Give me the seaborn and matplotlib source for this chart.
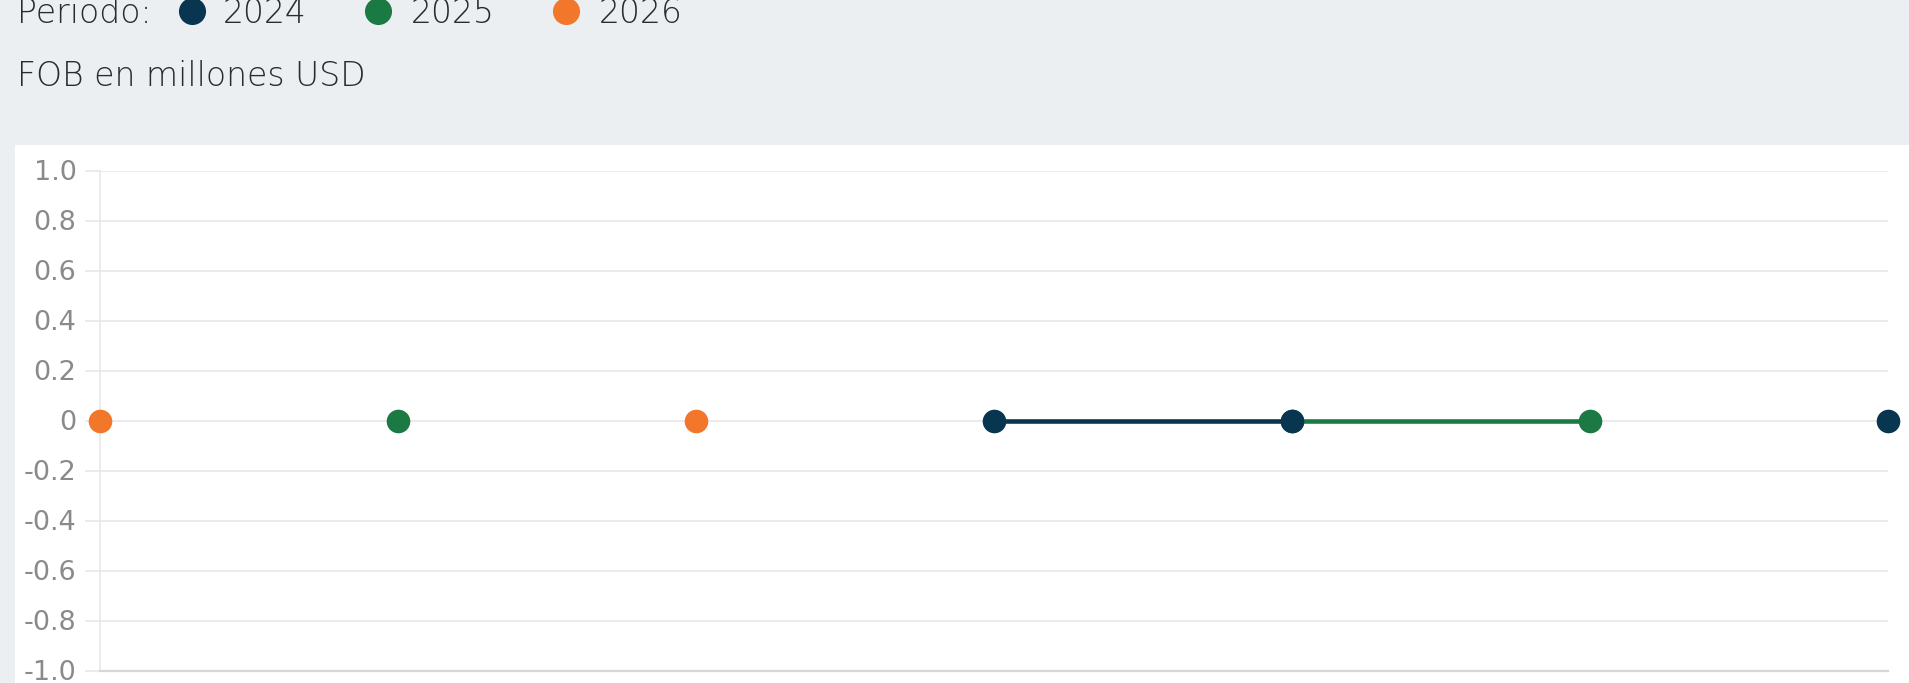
import numpy as np
import pandas as pd
import matplotlib
matplotlib.use("Agg")
import matplotlib.pyplot as plt
from matplotlib.lines import Line2D
from matplotlib.patches import Rectangle
import seaborn as sns

# Periods on the horizontal axis (index positions) and FOB values per year
posiciones = [0, 1, 2, 3, 4, 5, 6]
fob_2024 = [np.nan, np.nan, np.nan, 0.0, 0.0, np.nan, 0.0]
fob_2025 = [np.nan, 0.0, np.nan, np.nan, 0.0, 0.0, np.nan]
fob_2026 = [0.0, np.nan, 0.0, np.nan, np.nan, np.nan, np.nan]
periodos = ["2024", "2025", "2026"]
colores = {"2024": "#08354f", "2025": "#1b7a43", "2026": "#f3772a"}

valores_y = [-1.0, -0.8, -0.6, -0.4, -0.2, 0.0, 0.2, 0.4, 0.6, 0.8, 1.0]
etiquetas_y = ["-1.0", "-0.8", "-0.6", "-0.4", "-0.2", "0", "0.2", "0.4", "0.6", "0.8", "1.0"]

titulo_eje = "FOB en millones USD"
titulo_leyenda = "Periodo:"

# Long table; contiguous runs of values get their own segment id so gaps stay open
filas = []
for periodo, serie in zip(periodos, [fob_2024, fob_2025, fob_2026]):
    tramo = 0
    previo_nan = True
    for x, v in zip(posiciones, serie):
        if np.isnan(v):
            previo_nan = True
            continue
        if previo_nan:
            tramo += 1
            previo_nan = False
        filas.append({"x": x, "fob": v, "Periodo": periodo, "tramo": f"{periodo}-{tramo}"})
df = pd.DataFrame(filas)

sns.set_theme(style="white")
plt.rcParams["font.family"] = ["DejaVu Sans"]

W, H = 1909, 683
fig = plt.figure(figsize=(W / 100, H / 100), dpi=100)
fig.patch.set_facecolor("#ebeff2")

# White chart panel
fig.add_artist(Rectangle((15 / W, 0), 1 - 15 / W, (H - 145) / H,
                         transform=fig.transFigure, facecolor="white",
                         edgecolor="none", zorder=-1))

ax = fig.add_axes([99.5 / W, 12.5 / H, (1888 - 99.5) / W, 500 / H])
ax.set_facecolor("none")

sns.lineplot(data=df, x="x", y="fob", hue="Periodo", units="tramo",
             estimator=None, hue_order=["2026", "2025", "2024"],
             palette=colores, marker="o", markersize=17,
             markeredgewidth=0, linewidth=3.3, clip_on=False,
             legend=False, ax=ax, zorder=3)

ax.set_xlim(0, 6)
ax.set_ylim(-1, 1)
ax.set_yticks(valores_y)
ax.set_yticklabels(etiquetas_y)
ax.set_xticks([])
ax.set_xlabel("")
ax.set_ylabel("")
ax.yaxis.grid(True, color="#e6e6e6", linewidth=1.1)
ax.xaxis.grid(False)
ax.tick_params(axis="y", length=10.5, width=1.1, color="#e6e6e6",
               pad=6, labelsize=19.5, labelcolor="#8a8a8a", left=True)
for s in ["top", "right"]:
    ax.spines[s].set_visible(False)
ax.spines["left"].set_color("#e6e6e6")
ax.spines["left"].set_linewidth(1.1)
ax.spines["bottom"].set_color("#d6d6d6")
ax.spines["bottom"].set_linewidth(1.6)

# Axis title above the panel
fig.text(17 / W, 1 - 85.5 / H, titulo_eje, ha="left", va="baseline",
         fontsize=23.8, color="#2b2b2b", fontweight="light")

# Legend row at the top
fig.text(17 / W, 1 - 22.7 / H, titulo_leyenda, ha="left", va="baseline",
         fontsize=23.8, color="#2b2b2b", fontweight="light")
for periodo, xd, xt in zip(periodos, [191.5, 378, 566], [223, 411, 599]):
    fig.add_artist(Line2D([xd / W], [1 - 10.5 / H], transform=fig.transFigure,
                          marker="o", markersize=19.5, markeredgewidth=0,
                          color=colores[periodo], linestyle="none"))
    fig.text(xt / W, 1 - 22.7 / H, periodo, ha="left", va="baseline",
             fontsize=23.8, color="#2b2b2b", fontweight="light")

fig.savefig("out.png", dpi=100, facecolor=fig.get_facecolor())
